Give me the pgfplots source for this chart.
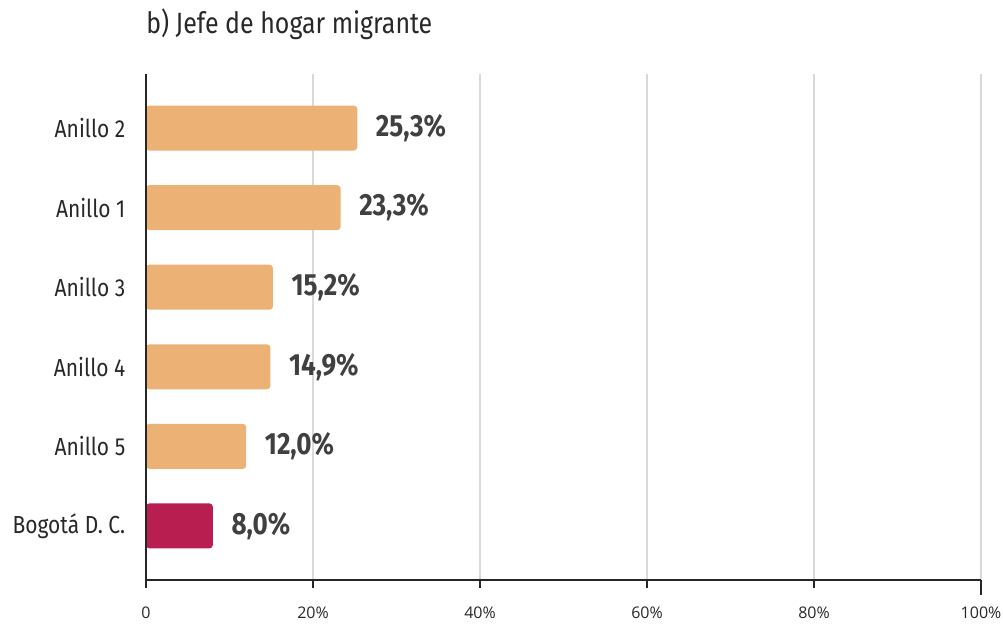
\documentclass[border=0pt]{standalone}
\usepackage{fontspec}
\setmainfont[FakeStretch=0.85]{Fira Sans}
\newfontfamily\tickfont{Open Sans}
\usepackage{pgfplots}
\pgfplotsset{compat=1.18}
\definecolor{barA}{RGB}{236,177,117}
\definecolor{barB}{RGB}{184,30,80}
\definecolor{valtxt}{RGB}{64,64,64}
\definecolor{labtxt}{RGB}{40,40,40}
\definecolor{gridc}{RGB}{217,217,217}
\begin{document}
\begin{tikzpicture}
\useasboundingbox (-109.5pt,-33pt) rectangle (642.75pt,435pt);
\begin{axis}[
  at={(0,0)}, anchor=south west, scale only axis,
  width=626.25pt, height=379.5pt,
  xmin=0, xmax=100, ymin=-0.68, ymax=5.68,
  xbar, bar width=33.75pt, bar shift=0pt,
  /pgf/number format/assume math mode=true,
  ytick={0,1,2,3,4,5},
  yticklabels={Bogotá D. C., Anillo 5, Anillo 4, Anillo 3, Anillo 1, Anillo 2},
  ytick style={draw=none},
  yticklabel style={font=\fontsize{18.5}{18.5}\selectfont, text=labtxt, xshift=-6pt},
  xtick={0,20,40,60,80},
  xticklabels={0,20\%,40\%,60\%,80\%},
  extra x ticks={100},
  extra x tick labels={100\%},
  extra x tick style={major tick length=11pt, xmajorgrids=true, xticklabel style={yshift=5pt}},
  xtick align=outside,
  major tick length=6pt,
  xtick style={line width=1pt, black!85},
  xticklabel style={font=\tickfont\fontsize{12}{12}\selectfont, text=labtxt, yshift=-11pt},
  xmajorgrids,
  grid style={gridc, line width=1pt},
  axis x line*=bottom, axis y line*=left,
  axis line style={line width=1.1pt, black!85},
  clip=false,
  nodes near coords={\pgfmathprintnumber[fixed,fixed zerofill,precision=1,use comma]{\pgfplotspointmeta}\%},
  point meta=x,
  nodes near coords style={anchor=west, xshift=10.5pt, text=valtxt, font=\bfseries\fontsize{23}{23}\selectfont},
]
\addplot[draw=none, fill=barA, rounded corners=2.5pt] coordinates {(12.0,1) (14.9,2) (15.2,3) (23.3,4) (25.3,5)};
\addplot[draw=none, fill=barB, rounded corners=2.5pt] coordinates {(8.0,0)};
\draw[line width=1.1pt, black!85] (rel axis cs:0,0) -- (rel axis cs:0,1);
\draw[line width=1.1pt, black!85] (rel axis cs:0,0) -- (rel axis cs:1,0);
\node[anchor=base west, font=\fontsize{22}{22}\selectfont, text=labtxt, inner sep=0pt] at ([yshift=30pt]rel axis cs:0,1) {b) Jefe de hogar migrante};
\end{axis}
\end{tikzpicture}
\end{document}
